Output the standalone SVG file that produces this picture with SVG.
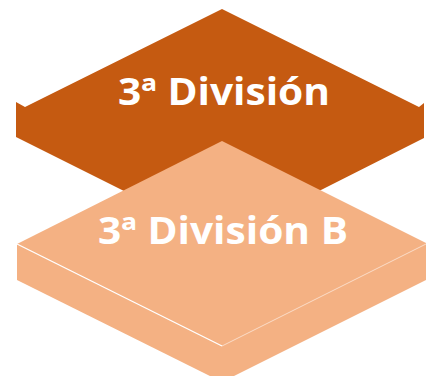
<svg xmlns="http://www.w3.org/2000/svg" width="435" height="376" viewBox="0 0 435 376">
<style>
.dark{fill:#C55A11;}
.light{fill:#F4B183;}
.lbl{font-family:"Open Sans","Noto Sans","Liberation Sans",sans-serif;font-weight:bold;font-size:37px;fill:#FFFFFF;text-anchor:middle;}
.hl{stroke:#FFFFFF;fill:none;}
</style>
<rect width="435" height="376" fill="#FFFFFF"/>
<g id="node-3a-division">
<path class="dark" d="M222,9 L419,107 L424,103 L424,138 L222,240 L16,137 L16,102 L25,107 Z"/>
<text class="lbl" x="224" y="105" textLength="212" lengthAdjust="spacingAndGlyphs">3ª División</text>
</g>
<g id="node-3a-division-b">
<path class="light" d="M222,141 L426,243 L426,280 L222,382 L17,280 L17,244 Z"/>
<path class="hl" d="M17,244 L222,346" stroke-width="1.3"/>
<path class="hl" d="M222,346 L426,244" stroke-width="1" stroke-opacity="0.55"/>
<text class="lbl" x="223" y="244" textLength="250" lengthAdjust="spacingAndGlyphs">3ª División B</text>
</g>
<g id="connectors"/>
</svg>
